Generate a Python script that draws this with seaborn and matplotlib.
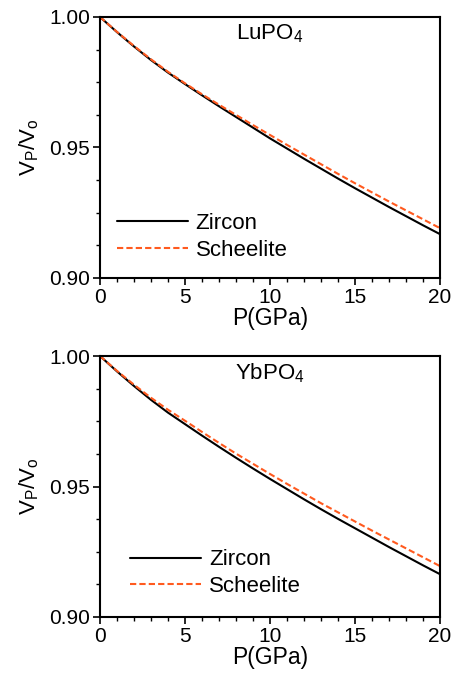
import numpy as np
import pandas as pd
import matplotlib
matplotlib.use("Agg")
import matplotlib.pyplot as plt
import seaborn as sns
from matplotlib.ticker import MultipleLocator

pressure = list(range(0, 21))

lu_zircon = [1.0000, 0.9942, 0.9887, 0.9835, 0.9787, 0.9743, 0.9700, 0.9658, 0.9617, 0.9576,
             0.9535, 0.9496, 0.9457, 0.9419, 0.9381, 0.9344, 0.9308, 0.9272, 0.9237, 0.9202, 0.9168]
lu_scheelite = [1.0000, 0.9943, 0.9889, 0.9838, 0.9790, 0.9746, 0.9704, 0.9664, 0.9625, 0.9586,
                0.9548, 0.9510, 0.9473, 0.9436, 0.9399, 0.9363, 0.9328, 0.9293, 0.9259, 0.9225, 0.9191]
yb_zircon = [1.0000, 0.9941, 0.9885, 0.9832, 0.9783, 0.9739, 0.9695, 0.9652, 0.9610, 0.9569,
             0.9529, 0.9490, 0.9451, 0.9413, 0.9376, 0.9340, 0.9304, 0.9268, 0.9233, 0.9198, 0.9164]
yb_scheelite = [1.0000, 0.9943, 0.9890, 0.9840, 0.9794, 0.9752, 0.9709, 0.9667, 0.9626, 0.9587,
                0.9548, 0.9510, 0.9473, 0.9436, 0.9401, 0.9366, 0.9331, 0.9297, 0.9263, 0.9229, 0.9195]

panels = [("LuPO$_4$", lu_zircon, lu_scheelite),
          ("YbPO$_4$", yb_zircon, yb_scheelite)]

sns.set_theme(style="ticks")
plt.rcParams['font.family'] = ['Liberation Sans', 'DejaVu Sans']
plt.rcParams['mathtext.fontset'] = 'custom'
plt.rcParams['mathtext.rm'] = 'Liberation Sans'
plt.rcParams['mathtext.it'] = 'Liberation Sans'
plt.rcParams['text.color'] = 'black'
plt.rcParams['axes.labelcolor'] = 'black'
plt.rcParams['xtick.color'] = 'black'
plt.rcParams['ytick.color'] = 'black'

fig = plt.figure(figsize=(4.51, 6.79), dpi=100)
axes = [fig.add_axes([100 / 451, 1 - 278 / 679, 340 / 451, 261 / 679]),
        fig.add_axes([100 / 451, 1 - 617 / 679, 340 / 451, 261 / 679])]

legend_pos = [(-0.01, -0.01), (0.03, 0.0)]

for ax, (name, zir, sch), lpos in zip(axes, panels, legend_pos):
    df = pd.DataFrame({
        "P": pressure * 2,
        "V": zir + sch,
        "phase": ["Zircon"] * len(pressure) + ["Scheelite"] * len(pressure),
    })
    sns.lineplot(data=df, x="P", y="V", hue="phase", style="phase",
                 palette={"Zircon": "black", "Scheelite": "#ff5a1f"},
                 dashes={"Zircon": "", "Scheelite": (3, 1.5)},
                 linewidth=1.5, ax=ax)
    ax.set_xlim(0, 20)
    ax.set_ylim(0.90, 1.00)
    ax.xaxis.set_major_locator(MultipleLocator(5))
    ax.xaxis.set_minor_locator(MultipleLocator(1))
    ax.yaxis.set_major_locator(MultipleLocator(0.05))
    ax.yaxis.set_minor_locator(MultipleLocator(0.0125))
    ax.yaxis.set_major_formatter(matplotlib.ticker.FormatStrFormatter("%.2f"))
    ax.tick_params(which="major", direction="out", length=5, width=1.2, labelsize=15, pad=2)
    ax.tick_params(which="minor", direction="out", length=3, width=1.0)
    for sp in ax.spines.values():
        sp.set_linewidth(1.5)
        sp.set_color("black")
    ax.set_xlabel("P(GPa)", fontsize=16.5, labelpad=0)
    ax.set_ylabel("V$_P$/V$_o$", fontsize=16, labelpad=6)
    ax.text(0.5, 0.935, name, transform=ax.transAxes, ha="center", va="center", fontsize=16)
    leg = ax.legend(loc="lower left", bbox_to_anchor=lpos, frameon=False,
                    fontsize=16, handlelength=3.2, handletextpad=0.35, labelspacing=0.25)
    leg.set_title(None)

fig.savefig("out.png", dpi=100)
